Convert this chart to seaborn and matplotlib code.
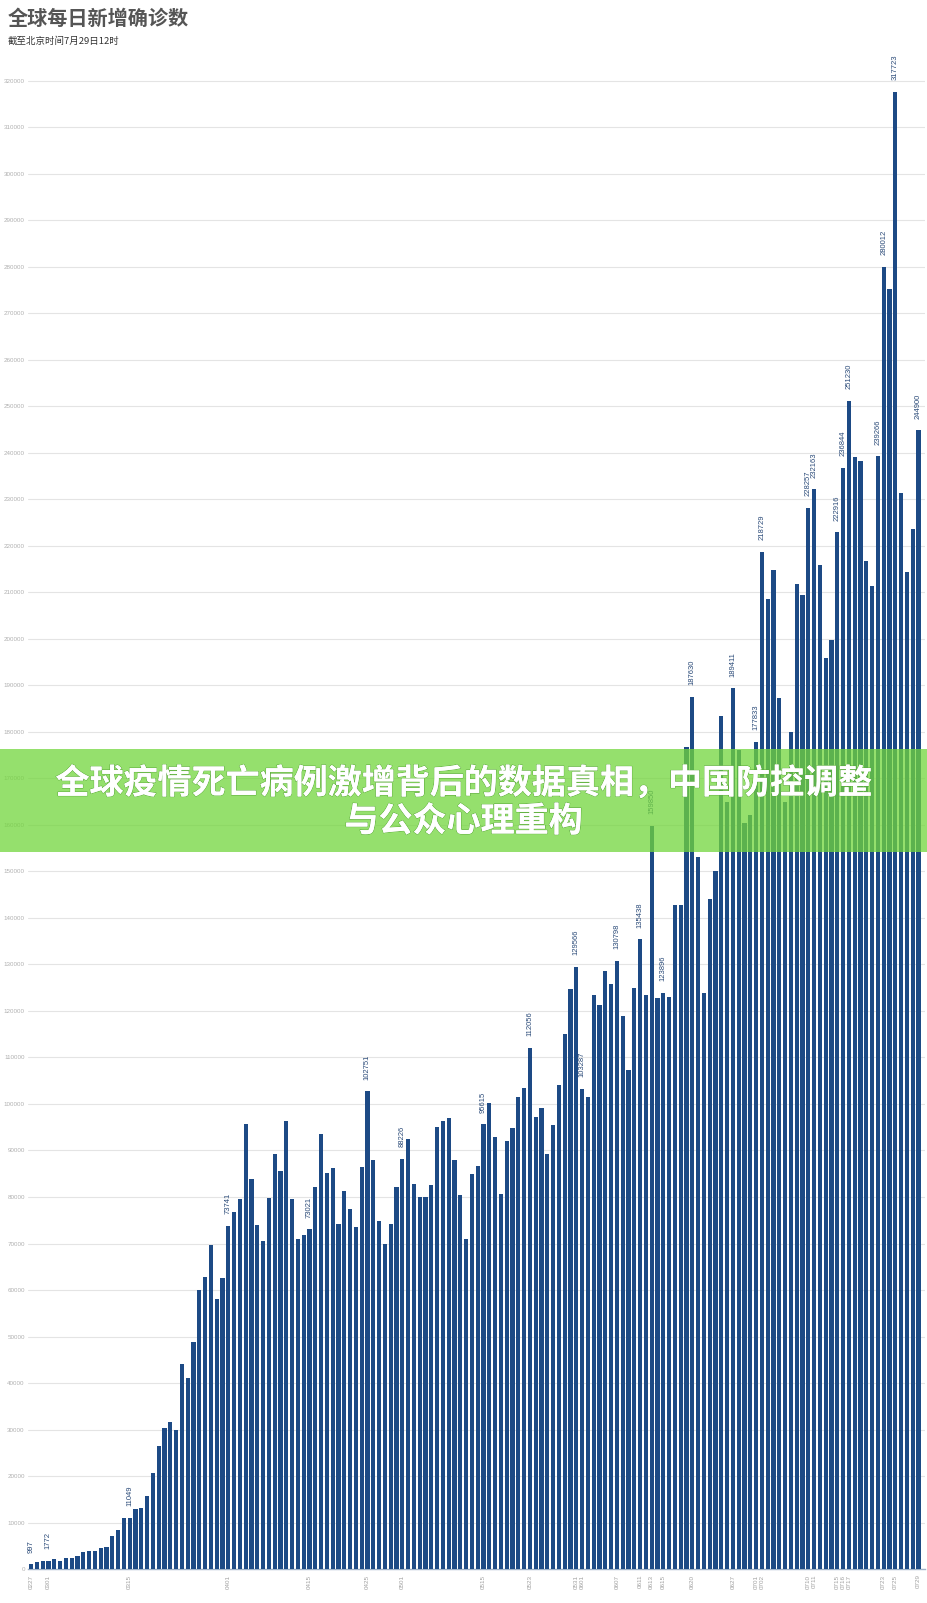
import matplotlib
matplotlib.use("Agg")
import matplotlib.pyplot as plt
import seaborn as sns
import pandas as pd
from matplotlib.patches import Rectangle
import matplotlib.patheffects as pe

# daily new confirmed cases, 2020-02-27 .. 2020-07-29
dates = pd.date_range("2020-02-27", "2020-07-29").strftime("%m%d").tolist()
new_cases = [
    997, 1500, 1750, 1772, 2100, 1800, 2300, 2300, 2900, 3700,
    3800, 3800, 4450, 4650, 7100, 8400, 10900, 11049, 12800, 13100,
    15700, 20700, 26500, 30300, 31600, 29800, 44000, 41100, 48800, 60000,
    62800, 69600, 58000, 62500, 73741, 76800, 79600, 95800, 83900, 74000,
    70500, 79850, 89200, 85660, 96300, 79500, 71000, 71750, 73021, 82200,
    93600, 85200, 86150, 74200, 81300, 77500, 73500, 86500, 102751, 88000,
    74760, 69900, 74200, 82100, 88226, 92470, 82800, 79900, 80050, 82600,
    95050, 96300, 97000, 87900, 80400, 71000, 85000, 86600, 95615, 100200,
    92850, 80600, 92000, 94800, 101450, 103450, 112056, 97100, 99200, 89170,
    95380, 104100, 115100, 124700, 129566, 103287, 101500, 123540, 121300, 128600,
    125900, 130798, 119000, 107300, 124840, 135438, 123540, 159850, 122900, 123896,
    123060, 142700, 142700, 176840, 187630, 153180, 123780, 144140, 150000, 183500,
    165000, 189411, 176100, 160350, 162140, 177833, 218729, 208600, 214840, 187380,
    165000, 180000, 211900, 209500, 228257, 232163, 215970, 195900, 199700, 222916,
    236844, 251230, 239200, 238200, 216700, 211500, 239266, 280012, 275300, 317723,
    231360, 214300, 223700, 244900,
]

labeled_dates = ["0227", "0301", "0315", "0401", "0415", "0425", "0501", "0515",
                 "0523", "0531", "0601", "0607", "0611", "0613", "0615", "0620",
                 "0627", "0701", "0702", "0710", "0711", "0715", "0716", "0717",
                 "0722", "0723", "0725", "0729"]
tick_dates = [d for d in labeled_dates if d != "0722"]

title = "全球每日新增确诊数"
subtitle = "截至北京时间7月29日12时"
banner_lines = ["全球疫情死亡病例激增背后的数据真相，中国防控调整", "与公众心理重构"]

df = pd.DataFrame({"date": dates, "cases": new_cases})

sns.set_theme(style="white")
plt.rcParams["font.family"] = ["Noto Sans CJK SC", "DejaVu Sans"]

bar_color = "#1d4a85"
num_font = ["Liberation Sans", "DejaVu Sans"]

fig = plt.figure(figsize=(9.27, 16.03), dpi=100)
ax = fig.add_axes([0.0297, 0.0212, 0.9686, 0.9341])

sns.barplot(data=df, x="date", y="cases", color=bar_color, saturation=1,
            width=0.72, linewidth=0, ax=ax, zorder=3)

ax.set_xlim(-0.6, 154.2)
ax.set_ylim(0, 322000)
ax.set_yticks(range(0, 330000, 10000))
ax.set_yticklabels([str(v) for v in range(0, 330000, 10000)],
                   fontsize=4.5, color="#b0b0b0", family=num_font)
ax.yaxis.grid(True, color="#e4e4e4", linewidth=0.8, zorder=0)
ax.set_axisbelow(True)

pos = {d: i for i, d in enumerate(dates)}
ax.set_xticks([pos[d] for d in tick_dates])
ax.set_xticklabels(tick_dates, rotation=90, fontsize=4.5, color="#a0a0a0",
                   family=num_font)
ax.tick_params(axis="both", length=0)
ax.tick_params(axis="x", pad=4)
ax.tick_params(axis="y", pad=2)
ax.set_xlabel("")
ax.set_ylabel("")

for s in ["left", "top", "right"]:
    ax.spines[s].set_visible(False)
ax.spines["bottom"].set_color("#9fb2c8")
ax.spines["bottom"].set_linewidth(1)

for d in labeled_dates:
    i = pos[d]
    v = new_cases[i]
    ax.text(i, v + 2500, str(v), rotation=90, ha="center", va="bottom",
            fontsize=5.5, color="#2a4a78", family=num_font, zorder=4)

fig.text(8 / 927, 1 - 18 / 1603, title, fontsize=14.5, fontweight="bold",
         color="#555555", va="center", ha="left")
fig.text(8 / 927, 1 - 41 / 1603, subtitle, fontsize=6.8, color="#333333",
         va="center", ha="left")

# green banner overlay
fig.add_artist(Rectangle((0, 1 - 852 / 1603), 1, 103 / 1603,
                         transform=fig.transFigure, facecolor="#72d63c",
                         edgecolor="none", alpha=0.75, zorder=10))
shadow = [pe.withSimplePatchShadow(offset=(0.6, -0.6), shadow_rgbFace="#3a7a20", alpha=0.5)]
fig.text(0.5, 1 - 783 / 1603, banner_lines[0], ha="center", va="center",
         fontsize=24.5, fontweight="bold", color="white", zorder=11,
         path_effects=[pe.withStroke(linewidth=0.8, foreground="#5aa83a"), pe.Normal()])
fig.text(0.5, 1 - 821 / 1603, banner_lines[1], ha="center", va="center",
         fontsize=24.5, fontweight="bold", color="white", zorder=11,
         path_effects=[pe.withStroke(linewidth=0.8, foreground="#5aa83a"), pe.Normal()])

fig.savefig("out.png", dpi=100)
